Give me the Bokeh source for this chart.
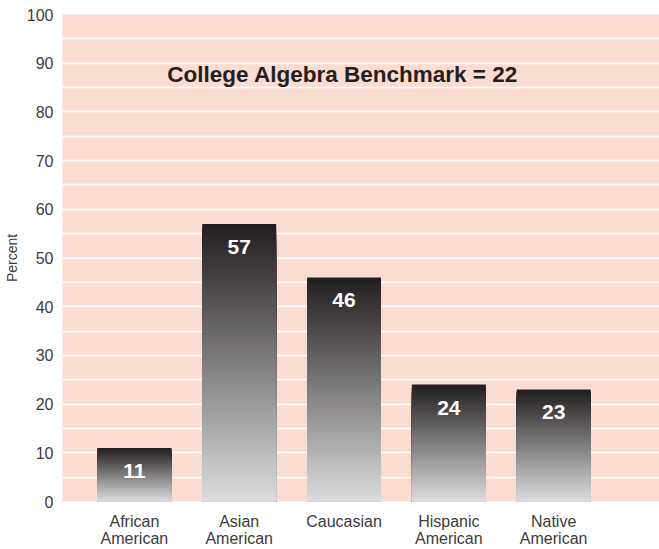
from bokeh.plotting import figure
from bokeh.models import ColumnDataSource, FixedTicker, Label
from bokeh.embed import file_html
from bokeh.resources import INLINE
from bokeh.core.properties import value

categories = ["African\nAmerican", "Asian\nAmerican", "Caucasian", "Hispanic\nAmerican", "Native\nAmerican"]
percents = [11, 57, 46, 24, 23]
benchmark = 22
y_ticks = list(range(0, 101, 10))
y_minor = list(range(5, 100, 10))

FONT = "Liberation Sans"
TOP = (35, 30, 31)
BOT = (222, 222, 222)
N = 80

xs = list(range(1, len(categories) + 1))

p = figure(width=659, height=549, x_range=(0.314, 6.01), y_range=(0, 100),
           output_backend="svg", toolbar_location=None,
           min_border_left=0, min_border_right=0, min_border_top=14, min_border_bottom=48)
p.background_fill_color = "#FADCD1"
p.border_fill_color = "white"
p.outline_line_color = None

# gradient bars: stacked overlapping bars, darkest (full height) first
lefts, rights, tops, colors = [], [], [], []
bw = 0.705
for k in range(N, 0, -1):
    f = k / N
    c = tuple(int(round(BOT[j] + (TOP[j] - BOT[j]) * f)) for j in range(3))
    col = "#%02x%02x%02x" % c
    for x, v in zip(xs, percents):
        lefts.append(x - bw / 2)
        rights.append(x + bw / 2)
        tops.append(v * f)
        colors.append(col)
src = ColumnDataSource(dict(left=lefts, right=rights, top=tops, bottom=[0] * len(tops), color=colors))
p.quad(left="left", right="right", top="top", bottom="bottom", fill_color="color",
       line_color=None, source=src)

lab = ColumnDataSource(dict(x=xs, y=percents, t=[str(v) for v in percents]))
p.text(x="x", y="y", text="t", source=lab, text_color="white", text_font=value(FONT),
       text_font_style="bold", text_font_size="21px", text_align="center",
       text_baseline="middle", y_offset=23)

p.add_layout(Label(x=1.314, y=87.7, text="College Algebra Benchmark = %d" % benchmark,
                   text_font=FONT, text_font_style="bold", text_font_size="22.5px",
                   text_color="#231f20", text_baseline="middle", text_align="left"))

p.yaxis.ticker = FixedTicker(ticks=y_ticks, minor_ticks=y_minor)
p.xaxis.ticker = FixedTicker(ticks=xs)
p.xaxis.major_label_overrides = {x: c for x, c in zip(xs, categories)}

for ax in (p.xaxis, p.yaxis):
    ax.axis_line_color = None
    ax.major_tick_line_color = None
    ax.minor_tick_line_color = None
    ax.major_label_text_font = FONT
    ax.major_label_text_font_size = "16px"
    ax.major_label_text_color = "#3c3c3c"
    ax.major_label_text_line_height = 1.0

p.yaxis.major_label_standoff = 3
p.xaxis.major_label_standoff = 5
p.yaxis.axis_label = "Percent"
p.yaxis.axis_label_text_font = FONT
p.yaxis.axis_label_text_font_style = "normal"
p.yaxis.axis_label_text_font_size = "14px"
p.yaxis.axis_label_text_color = "#3c3c3c"
p.yaxis.axis_label_standoff = 4

p.xgrid.grid_line_color = None
p.ygrid.grid_line_color = "white"
p.ygrid.grid_line_width = 1.5
p.ygrid.minor_grid_line_color = "white"
p.ygrid.minor_grid_line_width = 1.5

open("out.html", "w").write(file_html(p, INLINE))
